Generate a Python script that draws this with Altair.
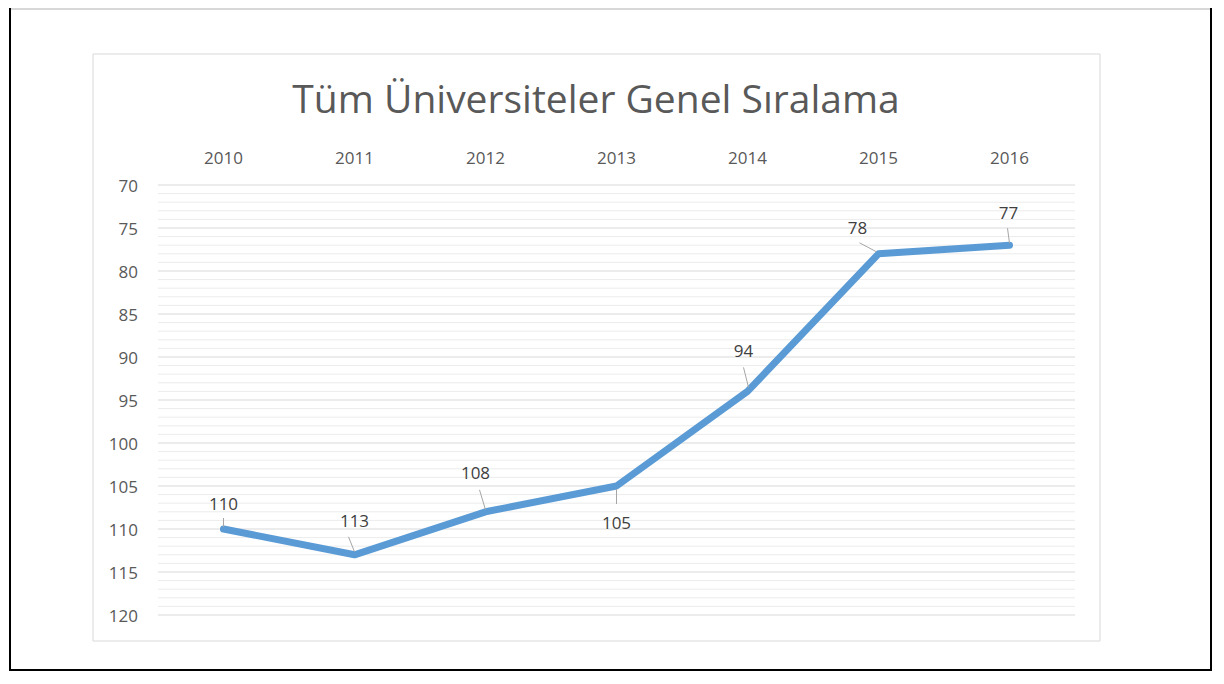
import altair as alt
import pandas as pd

# ---- data ----
years = [2010, 2011, 2012, 2013, 2014, 2015, 2016]
ranks = [110, 113, 108, 105, 94, 78, 77]
y_ticks = [70, 75, 80, 85, 90, 95, 100, 105, 110, 115, 120]
title_text = "Tüm Üniversiteler Genel Sıralama"

# ---- layout / style ----
W, H = 917, 430
PX_YEAR = W / 7.0
PX_UNIT = H / 50.0
FONT = "Open Sans"
LINE_COLOR = "#5B9BD5"
AXIS_COLOR = "#595959"

# label offsets (pixels, relative to the point)
label_dx = [0, 0, -10, 0, -4, -21, -1]
label_dy = [-24, -33, -38, 38, -39, -25, -31]
# leader line start/end (pixels, relative to point)
lead_sx = [0, -6, -6, 0, -4, -19, -2]
lead_sy = [-11, -18, -22, 3, -24, -11, -17]
lead_ex = [0, 0, 0, 0, 1, -2, 0]
lead_ey = [-2, -3, -2, 18, -4, -2, -2]

df = pd.DataFrame({"year": years, "rank": ranks})
df["lx"] = [y + d / PX_YEAR for y, d in zip(years, label_dx)]
df["ly"] = [r + d / PX_UNIT for r, d in zip(ranks, label_dy)]
df["sx"] = [y + d / PX_YEAR for y, d in zip(years, lead_sx)]
df["sy"] = [r + d / PX_UNIT for r, d in zip(ranks, lead_sy)]
df["ex"] = [y + d / PX_YEAR for y, d in zip(years, lead_ex)]
df["ey"] = [r + d / PX_UNIT for r, d in zip(ranks, lead_ey)]

major = pd.DataFrame({"t": y_ticks})
minor = pd.DataFrame({"v": [v for v in range(70, 121) if v % 5 != 0]})
xlab = pd.DataFrame({"year": years})

xs = alt.Scale(domain=[2009.5, 2016.5], nice=False, zero=False)
ys = alt.Scale(domain=[70, 120], reverse=True, nice=False, zero=False)

one = alt.Data(values=[{"a": 1}])

minor_grid = alt.Chart(minor).mark_rule(color="#ececec", strokeWidth=1).encode(
    y=alt.Y("v:Q", scale=ys, axis=None)
)
major_grid = alt.Chart(major).mark_rule(color="#d9d9d9", strokeWidth=1).encode(
    y=alt.Y("t:Q", scale=ys, axis=None)
)

y_labels = alt.Chart(major).mark_text(
    font=FONT, fontSize=17, color=AXIS_COLOR, align="right", baseline="middle", dy=2
).encode(
    y=alt.Y("t:Q", scale=ys, axis=None),
    x=alt.value(-20),
    text=alt.Text("t:Q"),
)

x_labels = alt.Chart(xlab).mark_text(
    font=FONT, fontSize=17, color=AXIS_COLOR, align="center", baseline="middle"
).encode(
    x=alt.X("year:Q", scale=xs, axis=None),
    y=alt.value(-26),
    text=alt.Text("year:Q", format="d"),
)

line = alt.Chart(df).mark_line(
    color=LINE_COLOR, strokeWidth=7, strokeCap="round", strokeJoin="round"
).encode(
    x=alt.X("year:Q", scale=xs, axis=None),
    y=alt.Y("rank:Q", scale=ys, axis=None),
)

leaders = alt.Chart(df).mark_rule(color="#a6a6a6", strokeWidth=1).encode(
    x=alt.X("sx:Q", scale=xs, axis=None), x2="ex:Q",
    y=alt.Y("sy:Q", scale=ys, axis=None), y2="ey:Q",
)

labels = alt.Chart(df).mark_text(
    font=FONT, fontSize=17, color="#404040", align="center", baseline="middle"
).encode(
    x=alt.X("lx:Q", scale=xs, axis=None),
    y=alt.Y("ly:Q", scale=ys, axis=None),
    text=alt.Text("rank:Q"),
)

# inner chart border
inner = alt.Chart(one).mark_rect(
    fillOpacity=0, stroke="#d9d9d9", strokeWidth=1
).encode(
    x=alt.value(-65), x2=alt.value(942), y=alt.value(-131), y2=alt.value(456)
)

# outer frame
frame_left = alt.Chart(one).mark_rule(color="#000000", strokeWidth=2).encode(
    x=alt.value(-148), y=alt.value(-177), y2=alt.value(486))
frame_right = alt.Chart(one).mark_rule(color="#000000", strokeWidth=2).encode(
    x=alt.value(1053), y=alt.value(-177), y2=alt.value(486))
frame_bottom = alt.Chart(one).mark_rule(color="#000000", strokeWidth=2).encode(
    x=alt.value(-149), x2=alt.value(1054), y=alt.value(485))
frame_top = alt.Chart(one).mark_rule(color="#b0b0b0", strokeWidth=1).encode(
    x=alt.value(-149), x2=alt.value(1054), y=alt.value(-176))

title = alt.Chart(one).mark_text(
    text=title_text, font=FONT, fontSize=39, color=AXIS_COLOR,
    align="center", baseline="alphabetic"
).encode(x=alt.value(438), y=alt.value(-72))

chart = alt.layer(
    minor_grid, major_grid, y_labels, x_labels, line, leaders, labels,
    inner, frame_top, frame_left, frame_right, frame_bottom, title
).properties(
    width=W, height=H,
    autosize=alt.AutoSizeParams(type="none"),
    padding={"left": 150, "top": 177, "right": 139, "bottom": 57},
    background="white",
).configure_view(strokeWidth=0)

chart.save("out.html", embed_options={"renderer": "svg", "actions": False})
